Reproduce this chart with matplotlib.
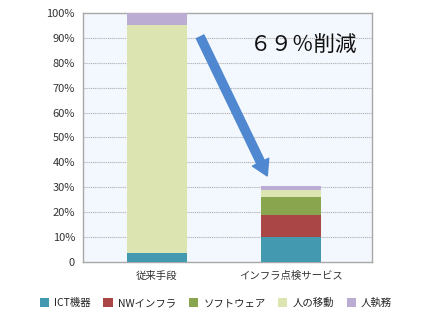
import matplotlib
matplotlib.use("Agg")
import matplotlib.pyplot as plt
from matplotlib.patches import Patch

plt.rcParams['font.family'] = ['Noto Sans CJK JP', 'DejaVu Sans']

categories = ['従来手段', 'インフラ点検サービス']
series_names = ['ICT機器', 'NWインフラ', 'ソフトウェア', '人の移動', '人執務']
ict = [3.6, 10.0]
nw = [0.0, 8.9]
soft = [0.0, 7.2]
move = [91.6, 2.8]
office = [4.8, 1.7]
series_values = [ict, nw, soft, move, office]
colors = ['#4399AF', '#AA4645', '#89A54E', '#DCE4B1', '#BAACD3']
yticks = [0, 10, 20, 30, 40, 50, 60, 70, 80, 90, 100]
ytick_labels = ['0'] + [f'{v}%' for v in yticks[1:]]
annotation_text = '６９％削減'

fig = plt.figure(figsize=(4.32, 3.23), dpi=100)
ax = fig.add_axes([0.193, 0.190, 0.668, 0.769])
ax.set_facecolor('#F3F8FE')

x = list(range(len(categories)))
bottom = [0.0] * len(categories)
for vals, col in zip(series_values, colors):
    ax.bar(x, vals, bottom=bottom, width=0.448, color=col, zorder=3, linewidth=0)
    bottom = [b + v for b, v in zip(bottom, vals)]

ax.set_xlim(-0.548, 1.604)
ax.set_ylim(0, 100)
ax.set_yticks(yticks)
ax.set_yticklabels(ytick_labels, fontsize=8, color='#333333')
ax.set_xticks(x)
ax.set_xticklabels(categories, fontsize=7.5, color='#333333')
ax.tick_params(axis='both', length=0)
ax.tick_params(axis='y', pad=6)
ax.tick_params(axis='x', pad=7)
for v in yticks[1:-1]:
    ax.axhline(v, color='#B4B4B4', linestyle=(0, (1.0, 0.7)), linewidth=0.8, zorder=1)
for s in ax.spines.values():
    s.set_color('#A8A8A8')
    s.set_linewidth(1.0)

ax.annotate('', xy=(0.823, 34.5), xytext=(0.323, 90.5),
            arrowprops=dict(arrowstyle='simple,head_length=1.1,head_width=1.3,tail_width=0.6',
                            mutation_scale=10, color='#4F87D0', shrinkA=0, shrinkB=0),
            zorder=5)
ax.text(1.092, 86.7, annotation_text, fontsize=15.5, ha='center', va='center', color='#111111', zorder=6)

handles = [Patch(facecolor=c, edgecolor='none') for c in colors]
fig.legend(handles, series_names, loc='center', bbox_to_anchor=(0.5, 0.062), ncol=5,
           frameon=False, fontsize=7.5, handlelength=0.9, handleheight=0.9,
           handletextpad=0.5, columnspacing=1.2, labelcolor='#222222')

fig.savefig('out.png', dpi=100)
